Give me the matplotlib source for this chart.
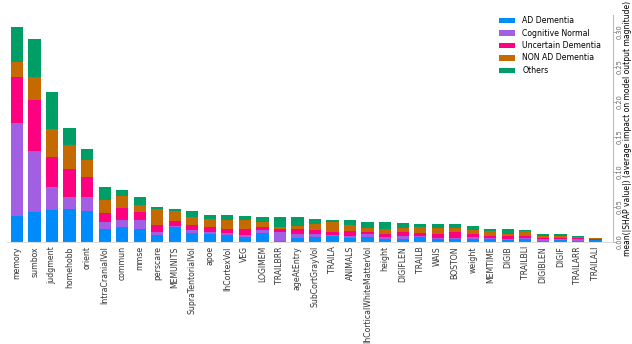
import numpy as np
import matplotlib
matplotlib.use("Agg")
import matplotlib.pyplot as plt

# feature names, ordered as in the summary plot
features = ["memory", "sumbox", "judgment", "homehobb", "orient", "IntraCranialVol",
            "commun", "mmse", "perscare", "MEMUNITS", "SupraTentorialVol", "apoe",
            "lhCortexVol", "VEG", "LOGIMEM", "TRAILBRR", "ageAtEntry", "SubCortGrayVol",
            "TRAILA", "ANIMALS", "lhCorticalWhiteMatterVol", "height", "DIGIFLEN",
            "TRAILB", "WAIS", "BOSTON", "weight", "MEMTIME", "DIGIB", "TRAILBLI",
            "DIGIBLEN", "DIGIF", "TRAILARR", "TRAILALI"]

# mean(|SHAP|) for every class
ad_dementia = [0.037, 0.043, 0.046, 0.047, 0.044, 0.019, 0.021, 0.019, 0.010, 0.021,
               0.013, 0.011, 0.010, 0.007, 0.013, 0.002, 0.006, 0.007, 0.009, 0.006,
               0.007, 0.004, 0.005, 0.007, 0.005, 0.005, 0.005, 0.004, 0.003, 0.004,
               0.002, 0.003, 0.002, 0.003]
cognitive_normal = [0.133, 0.087, 0.033, 0.017, 0.020, 0.009, 0.011, 0.013, 0.004, 0.002,
                    0.004, 0.003, 0.003, 0.003, 0.004, 0.012, 0.005, 0.005, 0.001, 0.003,
                    0.004, 0.003, 0.004, 0.001, 0.001, 0.001, 0.002, 0.002, 0.002, 0.002,
                    0.002, 0.001, 0.002, 0.0005]
uncertain_dementia = [0.066, 0.073, 0.043, 0.040, 0.029, 0.013, 0.017, 0.011, 0.010, 0.007,
                      0.007, 0.007, 0.006, 0.008, 0.005, 0.004, 0.007, 0.005, 0.004, 0.007,
                      0.003, 0.005, 0.005, 0.005, 0.005, 0.008, 0.004, 0.003, 0.003, 0.002,
                      0.002, 0.002, 0.002, 0.0005]
non_ad_dementia = [0.021, 0.033, 0.039, 0.034, 0.024, 0.019, 0.016, 0.010, 0.023, 0.014,
                   0.011, 0.012, 0.013, 0.014, 0.007, 0.004, 0.005, 0.009, 0.014, 0.008,
                   0.006, 0.006, 0.006, 0.009, 0.009, 0.006, 0.006, 0.007, 0.004, 0.008,
                   0.002, 0.002, 0.001, 0.0015]
others = [0.050, 0.054, 0.053, 0.024, 0.016, 0.019, 0.009, 0.011, 0.003, 0.003,
          0.009, 0.006, 0.007, 0.005, 0.007, 0.013, 0.012, 0.007, 0.003, 0.007,
          0.008, 0.010, 0.007, 0.003, 0.005, 0.005, 0.006, 0.003, 0.006, 0.001,
          0.004, 0.003, 0.001, 0.0003]

class_names = ["AD Dementia", "Cognitive Normal", "Uncertain Dementia", "NON AD Dementia", "Others"]
class_values = [ad_dementia, cognitive_normal, uncertain_dementia, non_ad_dementia, others]
class_colors = ["#008bfb", "#a35fe3", "#ff0080", "#c46a00", "#009e67"]

fig = plt.figure(figsize=(6.32, 3.44), dpi=100)
ax = fig.add_axes([0.0103, 0.2965, 0.9596, 0.66])

# barre impilate
x = np.arange(len(features))
bottom = np.zeros(len(features))
for name, vals, col in zip(class_names, class_values, class_colors):
    ax.bar(x, vals, 0.7, bottom=bottom, color=col, label=name)
    bottom += np.array(vals)

ax.set_xlim(-0.6, 34.0)
ax.set_ylim(0, 0.324)

# asse x: etichette ruotate
ax.set_xticks(x)
ax.set_xticklabels(features, rotation=90, fontsize=5.6, color="#333333")
ax.tick_params(axis="x", length=0, pad=3)

# asse y a destra
ax.yaxis.tick_right()
ax.yaxis.set_label_position("right")
ax.set_yticks([0.0, 0.05, 0.10, 0.15, 0.20, 0.25, 0.30])
ax.set_yticklabels(["0.00", "0.05", "0.10", "0.15", "0.20", "0.25", "0.30"],
                   rotation=90, va="center", fontsize=4.8, color="#666666")
ax.tick_params(axis="y", length=2, width=0.6, pad=0.5, color="#999999")
ax.set_ylabel("mean(|SHAP value|) (average impact on model output magnitude)",
              fontsize=5.5, rotation=90, labelpad=0.5)

ax.spines["top"].set_visible(False)
ax.spines["left"].set_visible(False)
ax.spines["right"].set_color("#bbbbbb")
ax.spines["bottom"].set_color("#dddddd")

ax.legend(loc="upper left", bbox_to_anchor=(499 / 632, 1 - 16 / 344), bbox_transform=fig.transFigure,
          frameon=False, fontsize=5.6, handlelength=2.1, handleheight=0.7,
          labelspacing=0.45, handletextpad=0.9, borderpad=0, borderaxespad=0)

fig.savefig("out.png", dpi=100)
